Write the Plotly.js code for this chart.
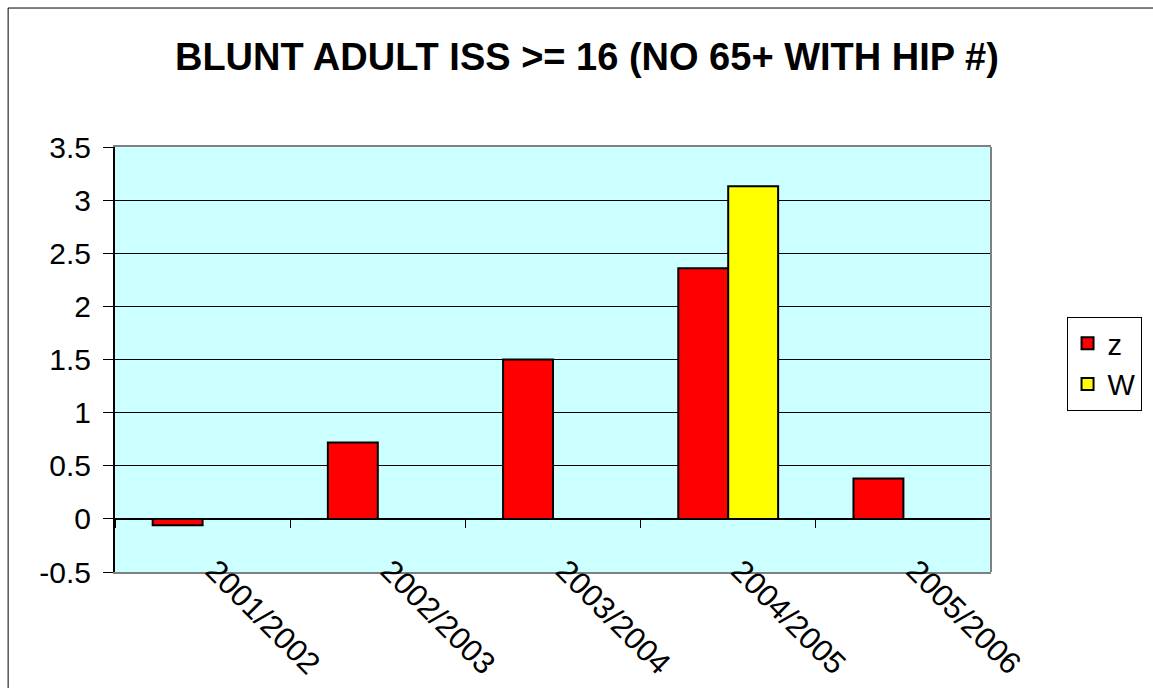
<!DOCTYPE html>
<html>
<head>
<meta charset="utf-8">
<script src="https://cdn.plot.ly/plotly-3.0.1.min.js"></script>
<style>
  body { margin: 0; background: #fff; }
  #chart { width: 1153px; height: 688px; }
</style>
</head>
<body>
<div id="chart"></div>
<script>
var years = ['2001/2002', '2002/2003', '2003/2004', '2004/2005', '2005/2006'];
var z_values = [-0.06, 0.72, 1.5, 2.36, 0.38];
var w_values = [null, null, null, 3.13, null];
var y_ticks = [-0.5, 0, 0.5, 1, 1.5, 2, 2.5, 3, 3.5];

var font_name = 'Arial, "Liberation Sans", sans-serif';

var trace_z = {
  x: years,
  y: z_values,
  type: 'bar',
  name: 'z',
  marker: { color: '#FF0000', line: { color: '#000000', width: 2 } },
  hoverinfo: 'x+y'
};

var trace_w = {
  x: years,
  y: w_values,
  type: 'bar',
  name: 'W',
  marker: { color: '#FFFF00', line: { color: '#000000', width: 2 } },
  hoverinfo: 'x+y'
};

// invisible helper so the axis line through zero gets drawn
var zero_axis = {
  x: years,
  y: years.map(function () { return null; }),
  type: 'scatter',
  mode: 'markers',
  xaxis: 'x2',
  showlegend: false,
  hoverinfo: 'skip'
};

var layout = {
  width: 1153,
  height: 688,
  margin: { l: 115, r: 161, t: 147, b: 116 },
  paper_bgcolor: '#FFFFFF',
  plot_bgcolor: '#CCFFFF',
  font: { family: font_name, size: 28, color: '#000000' },
  title: {
    text: '<b>BLUNT ADULT ISS >= 16 (NO 65+ WITH HIP #)</b>',
    font: { family: font_name, size: 38, color: '#000000' },
    x: 0.509,
    xanchor: 'center',
    y: 0.917,
    yanchor: 'middle'
  },
  barmode: 'group',
  bargap: 0.43,
  bargroupgap: 0,
  xaxis: {
    type: 'category',
    showline: true,
    linecolor: '#808080',
    linewidth: 2,
    mirror: true,
    ticks: '',
    showgrid: false,
    tickangle: 45,
    ticklabelstandoff: -34,
    ticklabelshift: 12,
    tickfont: { family: font_name, size: 31 }
  },
  xaxis2: {
    type: 'category',
    overlaying: 'x',
    matches: 'x',
    anchor: 'free',
    position: 0.125,
    side: 'bottom',
    showline: true,
    linecolor: '#000000',
    linewidth: 1,
    ticks: 'outside',
    ticklen: 8,
    tickcolor: '#000000',
    tickson: 'boundaries',
    showticklabels: false,
    showgrid: false
  },
  yaxis: {
    range: [-0.5, 3.5],
    tickvals: y_ticks,
    ticktext: y_ticks.map(String),
    showline: true,
    linecolor: '#000000',
    linewidth: 2,
    ticks: 'outside',
    ticklen: 10,
    tickcolor: '#000000',
    ticklabelstandoff: 6,
    showgrid: true,
    gridcolor: '#000000',
    gridwidth: 1,
    zeroline: false,
    tickfont: { family: font_name, size: 30 }
  },
  legend: {
    x: 1.085,
    y: 0.6,
    xanchor: 'left',
    yanchor: 'top',
    bordercolor: '#000000',
    borderwidth: 1,
    bgcolor: '#FFFFFF',
    font: { family: font_name, size: 29 },
    itemwidth: 30,
    tracegroupgap: 0,
    traceorder: 'normal'
  },
  shapes: [
    {
      type: 'line', xref: 'paper', yref: 'paper',
      x0: 1, x1: 1, y0: 0, y1: 1,
      line: { color: '#808080', width: 2 }, layer: 'above'
    },
    {
      type: 'rect', xref: 'paper', yref: 'paper',
      x0: -0.122, x1: 1.2, y0: -0.3, y1: 1.327,
      line: { color: '#000000', width: 1 }, layer: 'above'
    }
  ],
  showlegend: true
};

Plotly.newPlot('chart', [trace_z, trace_w, zero_axis], layout, { displayModeBar: false });
</script>
</body>
</html>
